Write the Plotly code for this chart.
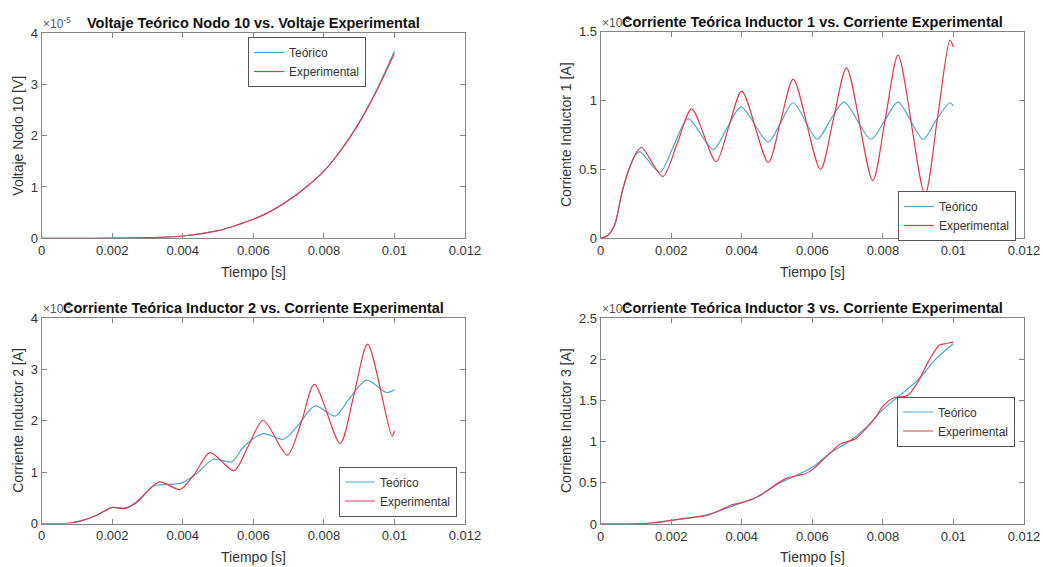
import plotly.graph_objects as go

W, H = 1043, 567

# ---------------- data (values as shown on axes, i.e. scaled by the exponent) ---------------
t1 = [0, 0.001, 0.002, 0.003, 0.004, 0.005, 0.0055, 0.006, 0.0065, 0.007, 0.0075, 0.008, 0.0085, 0.009, 0.0095, 0.01]
v10_teo = [0, 0, 0.002, 0.012, 0.045, 0.15, 0.25, 0.37, 0.53, 0.74, 1.0, 1.31, 1.74, 2.26, 2.9, 3.65]
v10_exp = [0, 0, 0.002, 0.012, 0.045, 0.15, 0.25, 0.37, 0.53, 0.74, 1.0, 1.31, 1.73, 2.25, 2.88, 3.6]

t2_teo = [0, 0.0002, 0.0004, 0.0006, 0.0008, 0.001, 0.00111, 0.00168, 0.00208, 0.00248, 0.00319, 0.00358,
          0.00398, 0.00475, 0.0051, 0.00546, 0.00614, 0.0065, 0.0069, 0.00766, 0.00805, 0.00843, 0.00914,
          0.0095, 0.0099, 0.01]
i1_teo = [0, 0.02, 0.1, 0.33, 0.5, 0.61, 0.63, 0.48, 0.68, 0.87, 0.645, 0.80, 0.955, 0.70, 0.84, 0.985, 0.72,
          0.855, 0.99, 0.72, 0.855, 0.99, 0.72, 0.855, 0.985, 0.96]
t2_exp = [0, 0.0002, 0.0004, 0.0006, 0.0008, 0.001, 0.00116, 0.00176, 0.00217, 0.00258, 0.00327, 0.00363,
          0.004, 0.00475, 0.0051, 0.00546, 0.00623, 0.0066, 0.00697, 0.00771, 0.00807, 0.00843, 0.00919,
          0.00955, 0.0099, 0.01]
i1_exp = [0, 0.02, 0.1, 0.33, 0.5, 0.62, 0.66, 0.45, 0.69, 0.94, 0.557, 0.81, 1.07, 0.552, 0.85, 1.157, 0.50,
          0.87, 1.239, 0.419, 0.87, 1.331, 0.319, 0.88, 1.44, 1.39]

t3_teo = [0, 0.0005, 0.0008, 0.00109, 0.00156, 0.00198, 0.00236, 0.00269, 0.00317, 0.00364, 0.00397, 0.00439,
          0.00487, 0.00539, 0.00572, 0.00628, 0.00685, 0.00723, 0.00775, 0.00832, 0.00869, 0.00921, 0.00978, 0.01]
i2_teo = [0, 0, 0.01, 0.045, 0.16, 0.31, 0.305, 0.40, 0.73, 0.76, 0.79, 0.97, 1.25, 1.20, 1.49, 1.75, 1.64,
          1.88, 2.29, 2.09, 2.40, 2.79, 2.55, 2.61]
t3_exp = [0, 0.0005, 0.0008, 0.00109, 0.00156, 0.00198, 0.00236, 0.00269, 0.00334, 0.00392, 0.00432, 0.00477,
          0.00545, 0.00585, 0.00628, 0.00696, 0.00735, 0.00773, 0.00846, 0.00885, 0.00924, 0.00993, 0.01]
i2_exp = [0, 0, 0.01, 0.045, 0.16, 0.31, 0.29, 0.42, 0.81, 0.66, 0.95, 1.38, 1.03, 1.50, 2.01, 1.33, 1.95,
          2.71, 1.56, 2.50, 3.49, 1.70, 1.80]

t4_teo = [0, 0.001, 0.0015, 0.002, 0.0025, 0.003, 0.0035, 0.004, 0.0045, 0.005, 0.0055, 0.006, 0.0065,
          0.007, 0.0075, 0.008, 0.0085, 0.009, 0.0095, 0.01]
i3_teo = [0, 0.002, 0.015, 0.045, 0.07, 0.11, 0.18, 0.26, 0.34, 0.48, 0.58, 0.69, 0.86, 0.99, 1.16, 1.39,
          1.57, 1.75, 2.0, 2.19]
t4_exp = [0, 0.001, 0.0015, 0.002, 0.0025, 0.0028, 0.003, 0.0035, 0.0037, 0.004, 0.0043, 0.0047, 0.005,
          0.0053, 0.0058, 0.006, 0.0065, 0.0068, 0.0072, 0.0075, 0.0078, 0.008, 0.0083, 0.0087, 0.009,
          0.0093, 0.0096, 0.0098, 0.01]
i3_exp = [0, 0.002, 0.015, 0.045, 0.075, 0.09, 0.10, 0.19, 0.23, 0.26, 0.30, 0.40, 0.49, 0.56, 0.61, 0.66,
          0.86, 0.97, 1.03, 1.15, 1.30, 1.43, 1.53, 1.56, 1.73, 1.98, 2.17, 2.19, 2.21]

x_ticks = [0, 0.002, 0.004, 0.006, 0.008, 0.01, 0.012]
x_ticktext = ["0", "0.002", "0.004", "0.006", "0.008", "0.01", "0.012"]
y1_ticks = [0, 1, 2, 3, 4]
y2_ticks = [0, 0.5, 1, 1.5]
y3_ticks = [0, 1, 2, 3, 4]
y4_ticks = [0, 0.5, 1, 1.5, 2, 2.5]

titles = ["Voltaje Teórico Nodo 10 vs. Voltaje Experimental",
          "Corriente Teórica Inductor 1 vs. Corriente Experimental",
          "Corriente Teórica Inductor 2 vs. Corriente Experimental",
          "Corriente Teórica Inductor 3 vs. Corriente Experimental"]
ylabels = ["Voltaje Nodo 10 [V]", "Corriente Inductor 1 [A]",
           "Corriente Inductor 2 [A]", "Corriente Inductor 3 [A]"]
xlabel = "Tiempo [s]"
exponents = ["-5", "-3", "-3", "-3"]
series_names = ["Teórico", "Experimental"]

# ---------------- layout geometry (pixels) ----------------
BLUE = "#4fa3d2"
RED = "#e23a46"
AXC = "#858585"
TXT = "#333333"
FONT = "Liberation Sans, Arial, sans-serif"

xl = [(41.7, 465.0), (600.7, 1024.0), (41.7, 465.0), (600.7, 1024.0)]
yt = [(33.0, 238.3), (31.9, 238.3), (318.0, 523.5), (318.0, 524.0)]
ylab_x = [18, 566, 18, 566]
xlab_y = [272, 272, 557, 557]
yranges = [[0, 4], [0, 1.5], [0, 4], [0, 2.5]]
yticks = [y1_ticks, y2_ticks, y3_ticks, y4_ticks]
legpos = [(248, 62), (898, 216), (339, 491.5), (897, 421.5)]  # left edge, vertical centre

data = [
    (t1, v10_teo, t1, v10_exp),
    (t2_teo, i1_teo, t2_exp, i1_exp),
    (t3_teo, i2_teo, t3_exp, i2_exp),
    (t4_teo, i3_teo, t4_exp, i3_exp),
]

fig = go.Figure()
layout = dict(width=W, height=H, autosize=False, margin=dict(l=0, r=0, t=0, b=0, autoexpand=False),
              paper_bgcolor="white", plot_bgcolor="white",
              font=dict(family=FONT, size=12, color=TXT), annotations=[])

for k in range(4):
    sfx = "" if k == 0 else str(k + 1)
    xa, ya = "x" + sfx, "y" + sfx
    leg = "legend" + sfx
    tt, yt_, te, ye = data[k]
    fig.add_trace(go.Scatter(x=tt, y=yt_, mode="lines", name=series_names[0],
                             line=dict(color=BLUE, width=1.2, shape="spline", smoothing=0.8),
                             xaxis=xa, yaxis=ya, legend=leg))
    fig.add_trace(go.Scatter(x=te, y=ye, mode="lines", name=series_names[1],
                             line=dict(color=RED, width=1.2, shape="spline", smoothing=0.8),
                             xaxis=xa, yaxis=ya, legend=leg))
    x0, x1 = xl[k]
    y0, y1 = yt[k]
    common = dict(showline=True, linecolor=AXC, linewidth=1, mirror="ticks", ticks="inside",
                  ticklen=5, tickcolor=AXC, showgrid=False, zeroline=False, automargin=False,
                  tickfont=dict(family=FONT, size=13, color=TXT))
    layout["xaxis" + sfx] = dict(common, domain=[x0 / W, x1 / W], range=[0, 0.012],
                                 tickvals=x_ticks, ticktext=x_ticktext, anchor=ya)
    layout["yaxis" + sfx] = dict(common, domain=[1 - y1 / H, 1 - y0 / H], range=yranges[k],
                                 tickvals=yticks[k], anchor=xa)
    lx, ly = legpos[k]
    layout[leg] = dict(x=lx / W, y=1 - ly / H, xanchor="left", yanchor="middle",
                       bgcolor="white", bordercolor="#555555", borderwidth=1,
                       font=dict(family=FONT, size=12, color=TXT), tracegroupgap=0,
                       itemwidth=30)
    # axis labels
    layout["annotations"].append(dict(
        text=xlabel, x=(x0 + x1) / 2 / W, y=1 - xlab_y[k] / H, xref="paper", yref="paper",
        xanchor="center", yanchor="middle", showarrow=False,
        font=dict(family=FONT, size=14, color=TXT)))
    layout["annotations"].append(dict(
        text=ylabels[k], x=ylab_x[k] / W, y=1 - (y0 + y1) / 2 / H, xref="paper", yref="paper",
        xanchor="center", yanchor="middle", textangle=-90, showarrow=False,
        font=dict(family=FONT, size=14, color=TXT)))
    # exponent label
    layout["annotations"].append(dict(
        text="×10<sup>" + exponents[k] + "</sup>", x=(x0 - 1) / W, y=1 - (y0 - 10) / H,
        xref="paper", yref="paper", xanchor="left", yanchor="middle", showarrow=False,
        font=dict(family=FONT, size=12, color="#555555")))
    # title
    layout["annotations"].append(dict(
        text="<b>" + titles[k] + "</b>", x=(x0 + x1) / 2 / W, y=1 - (y0 - 10) / H,
        xref="paper", yref="paper", xanchor="center", yanchor="middle", showarrow=False,
        font=dict(family=FONT, size=14.5, color="#111111")))

fig.update_layout(**layout)
fig.write_html("out.html")
